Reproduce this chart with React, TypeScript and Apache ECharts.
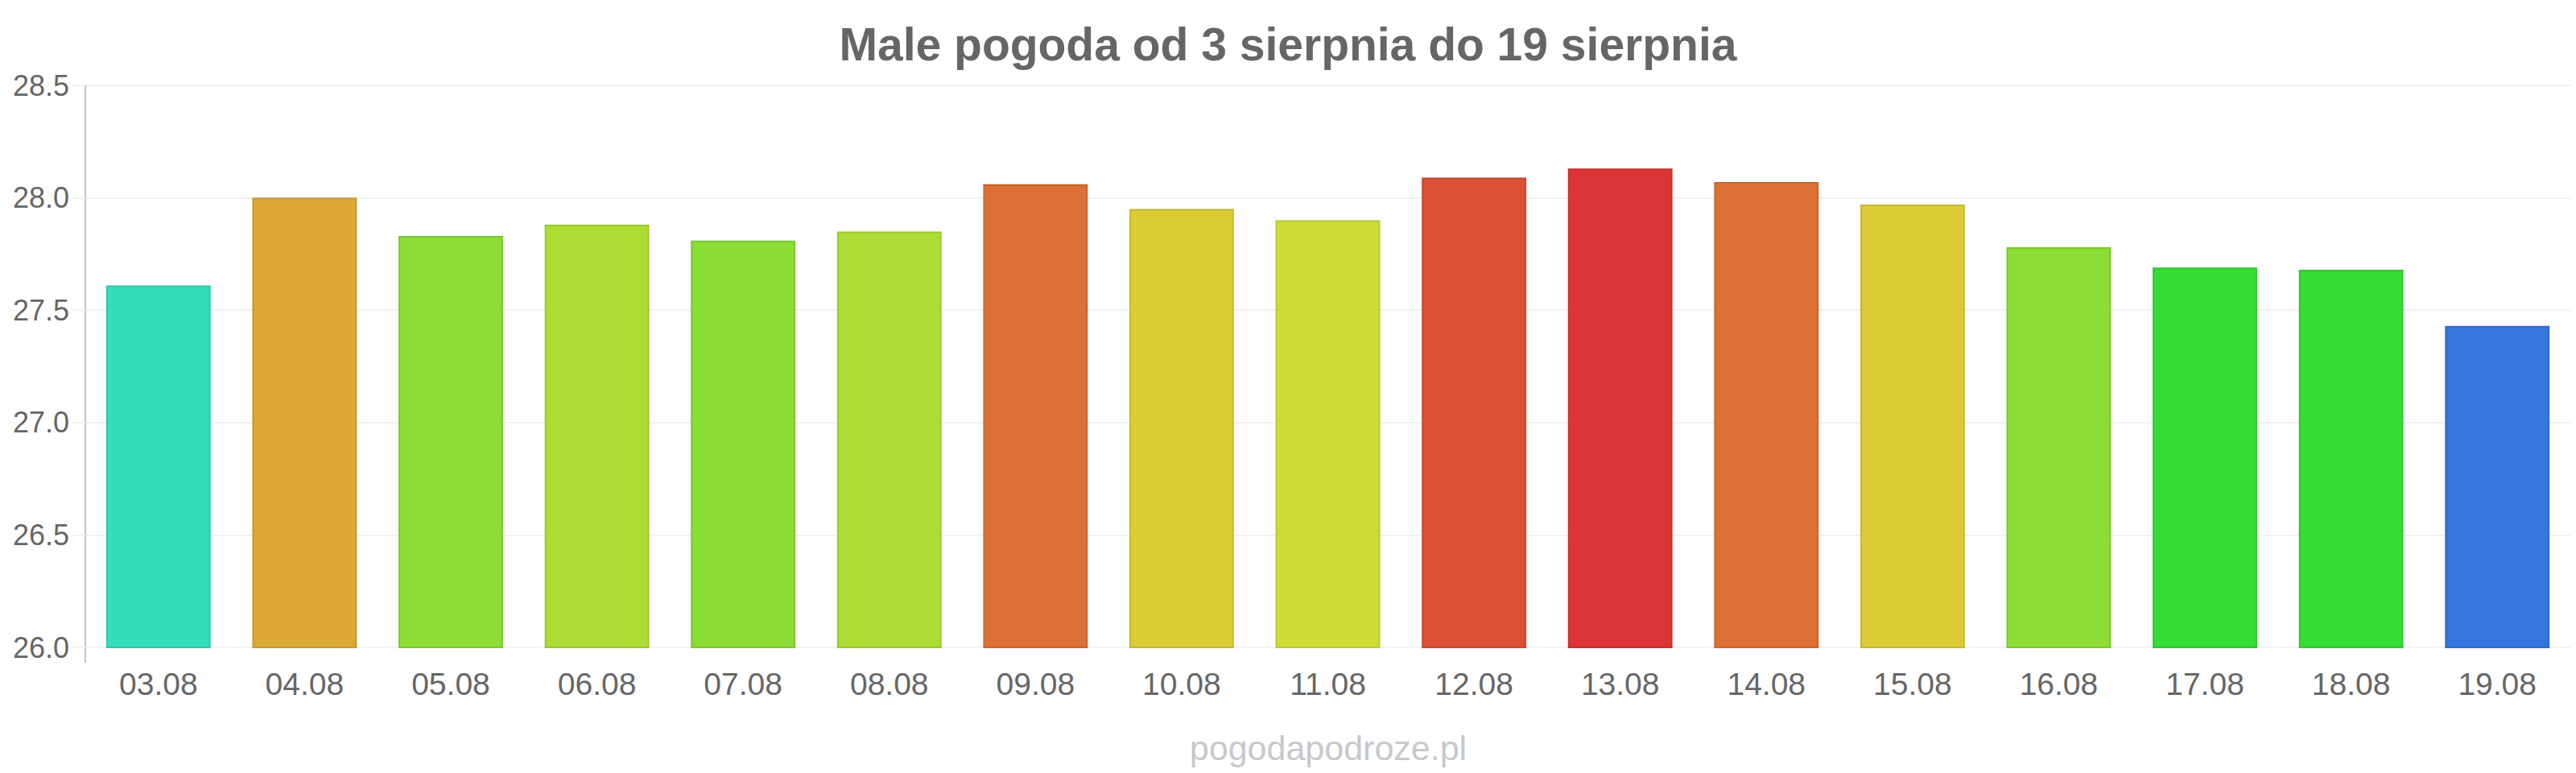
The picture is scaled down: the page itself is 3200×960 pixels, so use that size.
import React, { useEffect, useRef } from "react";
import * as echarts from "echarts";

const categories = ["03.08","04.08","05.08","06.08","07.08","08.08","09.08","10.08","11.08","12.08","13.08","14.08","15.08","16.08","17.08","18.08","19.08"];
const temps = [27.61, 28.0, 27.83, 27.88, 27.81, 27.85, 28.06, 27.95, 27.9, 28.09, 28.13, 28.07, 27.97, 27.78, 27.69, 27.68, 27.43];
const barColors = ["#34ddbb","#dca935","#8cdd35","#addd35","#8add35","#addd35","#dd7135","#dccb35","#cedd35","#dc5135","#dc3535","#dd7135","#dccb35","#8cdd35","#35dd35","#35dd35","#3575dd"];
const borderColors = ["#2fc7a8","#c69830","#7ec730","#9cc730","#7cc730","#9cc730","#c7662f","#c6b730","#b9c730","#c6492f","#c6302f","#c7662f","#c6b730","#7ec730","#30c730","#30c730","#3069c7"];
const yTicks = { min: 26.0, max: 28.5, interval: 0.5 };
const titleText = "Male pogoda od 3 sierpnia do 19 sierpnia";
const watermark = "pogodapodroze.pl";

export default function App() {
  const ref = useRef<HTMLDivElement>(null);
  useEffect(() => {
    document.body.style.margin = "0";
    const chart = echarts.init(ref.current!, undefined, { renderer: "svg" });
    const font = "'Liberation Sans', Arial, sans-serif";
    chart.setOption({
      animation: false,
      backgroundColor: "#ffffff",
      title: {
        text: titleText,
        left: "center",
        top: 21,
        textStyle: { fontFamily: font, fontSize: 57, fontWeight: "bold", color: "#666666" },
      },
      grid: { left: 106, right: 7, top: 106, bottom: 156, containLabel: false },
      xAxis: {
        type: "category",
        data: categories,
        axisLine: { show: false },
        axisTick: { show: false },
        axisLabel: { fontFamily: font, fontSize: 39, color: "#666666", margin: 26 },
      },
      yAxis: {
        type: "value",
        min: yTicks.min,
        max: yTicks.max,
        interval: yTicks.interval,
        axisLine: { show: true, lineStyle: { color: "#c4c4c4", width: 2 } },
        axisTick: { show: true, inside: false, length: 16, lineStyle: { color: "#f2f2f2", width: 2 } },
        splitLine: { show: true, lineStyle: { color: "#f2f2f2", width: 2 } },
        axisLabel: {
          fontFamily: font, fontSize: 36, color: "#666666", margin: 20,
          formatter: (v: number) => v.toFixed(1),
        },
      },
      graphic: [
        { type: "line", shape: { x1: 106, y1: 804, x2: 106, y2: 823 }, style: { stroke: "#c4c4c4", lineWidth: 2 } },
        {
          type: "text", x: 1650, y: 929,
          style: { text: watermark, fontFamily: font, fontSize: 43, fill: "#c8c8cc", align: "center", verticalAlign: "middle" },
        },
      ],
      series: [
        {
          type: "bar",
          barWidth: "71.5%",
          data: temps.map((v, i) => ({
            value: v,
            itemStyle: { color: barColors[i], borderColor: borderColors[i], borderWidth: 2 },
          })),
        },
      ],
    });
    return () => chart.dispose();
  }, []);
  return <div ref={ref} style={{ width: 3200, height: 960 }} />;
}
